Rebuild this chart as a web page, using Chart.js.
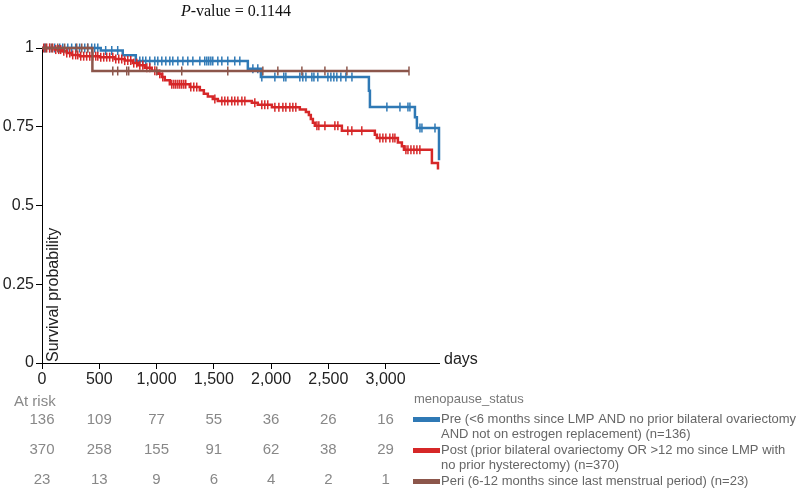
<!DOCTYPE html>
<html><head><meta charset="utf-8">
<script src="https://cdn.jsdelivr.net/npm/chart.js@4.4.0/dist/chart.umd.min.js"></script>
<style>html,body{margin:0;padding:0;background:#fff;}#wrap{width:800px;height:488px;position:relative;}</style>
</head><body><div id="wrap"><canvas id="c" width="800" height="488"></canvas></div>
<script>
// ---------- data ----------
const xTicks = [0, 500, 1000, 1500, 2000, 2500, 3000];
const yTicks = [0, 0.25, 0.5, 0.75, 1];
const xMax = 3466;
const groupNames = ['Pre', 'Post', 'Peri'];
const groupColors = ['#2f79b5', '#d62728', '#8c564b'];
const legendTitle = 'menopause_status';
const legendLines = [
  ['Pre (<6 months since LMP AND no prior bilateral ovariectomy', 'AND not on estrogen replacement) (n=136)'],
  ['Post (prior bilateral ovariectomy OR >12 mo since LMP with', 'no prior hysterectomy) (n=370)'],
  ['Peri (6-12 months since last menstrual period) (n=23)']
];
const atRiskPre  = [136, 109, 77, 55, 36, 26, 16];
const atRiskPost = [370, 258, 155, 91, 62, 38, 29];
const atRiskPeri = [23, 13, 9, 6, 4, 2, 1];

const preEventDays = [513, 705, 819, 1797, 1911, 2854, 2863, 3256, 3273, 3466];
const preEventSurv = [0.992, 0.977, 0.959, 0.934, 0.908, 0.864, 0.813, 0.78, 0.746, 0.644];
const preEnd = 3466;
const preCensor = [24, 67, 111, 155, 181, 225, 259, 294, 329, 373, 399, 434, 460, 487,
  556, 609, 661, 854, 880, 906, 941, 985, 1011, 1046, 1081, 1116, 1142, 1186, 1230, 1273,
  1317, 1378, 1421, 1439, 1456, 1474, 1491, 1535, 1570, 1622, 1683, 1727, 1841, 1884,
  1919, 2033, 2111, 2129, 2251, 2277, 2304, 2356, 2374, 2408, 2496, 2522, 2548, 2574,
  2609, 2653, 2706, 3011, 3125, 3195, 3212, 3300, 3317, 3431];

const postEventDays = [111, 172, 216, 259, 329, 504, 635, 722, 792, 836, 897, 958, 1011,
  1046, 1072, 1116, 1290, 1378, 1413, 1448, 1491, 1535, 1832, 1884, 2007, 2251, 2304,
  2330, 2347, 2365, 2382, 2618, 2906, 2924, 3107, 3142, 3160, 3404, 3457];
const postEventSurv = [0.995, 0.99, 0.984, 0.978, 0.974, 0.971, 0.965, 0.96, 0.952, 0.945,
  0.937, 0.928, 0.918, 0.908, 0.898, 0.885, 0.876, 0.866, 0.855, 0.846, 0.838, 0.832,
  0.826, 0.82, 0.812, 0.805, 0.797, 0.787, 0.775, 0.763, 0.753, 0.737, 0.725, 0.714,
  0.7, 0.688, 0.677, 0.635, 0.614];
const postEnd = 3457;
const postCensor = [15, 41, 67, 93, 120, 146, 163, 190, 216, 242, 268, 294, 312, 338, 364,
  390, 417, 443, 469, 487, 513, 539, 565, 591, 618, 644, 670, 696, 722, 749, 775, 801,
  827, 854, 880, 915, 941, 985, 1028, 1054, 1133, 1151, 1168, 1186, 1203, 1220, 1238,
  1255, 1299, 1325, 1351, 1509, 1570, 1596, 1622, 1657, 1683, 1710, 1745, 1771, 1858,
  1919, 1945, 1971, 2033, 2068, 2103, 2129, 2164, 2190, 2216, 2400, 2417, 2470, 2557,
  2583, 2670, 2705, 2792, 2950, 2976, 3002, 3037, 3063, 3081, 3177, 3195, 3221, 3247,
  3273, 3299];

const periEventDays = [440];
const periEventSurv = [0.927];
const periEnd = 3204;
const periCensor = [32, 85, 137, 198, 303, 347, 399, 618, 661, 740, 757, 1002, 1220,
  1622, 1928, 2059, 2269, 2470, 2662, 3204];

// ---------- helpers ----------
function curve(days, surv, end) {
  const pts = [{x: 0, y: 1}];
  days.forEach((d, i) => pts.push({x: d, y: surv[i]}));
  const last = pts[pts.length - 1];
  if (end > last.x) pts.push({x: end, y: last.y});
  return pts;
}
function survAt(days, surv, t) {
  let s = 1;
  for (let i = 0; i < days.length; i++) if (days[i] <= t) s = surv[i];
  return s;
}
function censorPts(cens, days, surv) {
  return cens.map(t => ({x: t, y: survAt(days, surv, t)}));
}

const groups = [
  {days: preEventDays, surv: preEventSurv, end: preEnd, cens: preCensor},
  {days: postEventDays, surv: postEventSurv, end: postEnd, cens: postCensor},
  {days: periEventDays, surv: periEventSurv, end: periEnd, cens: periCensor}
];
const datasets = [];
groups.forEach((g, i) => {
  datasets.push({
    label: groupNames[i], type: 'line', data: curve(g.days, g.surv, g.end),
    stepped: true, borderColor: groupColors[i], borderWidth: 2.5, pointRadius: 0,
    fill: false, clip: false, order: 10 - i * 2
  });
  datasets.push({
    label: groupNames[i] + ' censored', type: 'scatter', data: censorPts(g.cens, g.days, g.surv),
    pointStyle: 'line', rotation: 90, pointRadius: 4.5, pointBorderColor: groupColors[i],
    pointBorderWidth: 1.5, borderColor: groupColors[i], showLine: false, clip: false,
    order: 9 - i * 2
  });
});

const textPlugin = {
  id: 'texts',
  afterDraw(chart) {
    const ctx = chart.ctx;
    const xs = chart.scales.x;
    ctx.save();
    // title
    const tcx = 236, tcy = 12;
    ctx.textBaseline = 'middle';
    ctx.fillStyle = '#111';
    ctx.font = 'italic 16px "Liberation Serif"';
    const wP = ctx.measureText('P').width;
    ctx.font = '16px "Liberation Serif"';
    const rest = '-value = 0.1144';
    const wR = ctx.measureText(rest).width;
    let sx = tcx - (wP + wR) / 2;
    ctx.textAlign = 'left';
    ctx.font = 'italic 16px "Liberation Serif"';
    ctx.fillText('P', sx, tcy);
    ctx.font = '16px "Liberation Serif"';
    ctx.fillText(rest, sx + wP, tcy);

    // axis labels
    ctx.font = '16px "Liberation Sans"';
    ctx.fillStyle = '#222';
    ctx.fillText('days', 444, 360);
    ctx.save();
    ctx.translate(54, 362);
    ctx.rotate(-Math.PI / 2);
    ctx.textAlign = 'left';
    ctx.fillText('Survival probability', 0, 0);
    ctx.restore();

    // at risk table
    ctx.font = '15px "Liberation Sans"';
    ctx.fillStyle = '#888';
    ctx.textAlign = 'left';
    ctx.fillText('At risk', 14, 402);
    ctx.textAlign = 'center';
    const rows = [atRiskPre, atRiskPost, atRiskPeri];
    const rowY = [420, 450, 480];
    rows.forEach((r, ri) => {
      r.forEach((v, ci) => ctx.fillText(String(v), xs.getPixelForValue(xTicks[ci]), rowY[ri]));
    });

    // legend
    ctx.textAlign = 'left';
    ctx.font = '13px "Liberation Sans"';
    ctx.fillStyle = '#777';
    ctx.fillText(legendTitle, 414, 399);
    let y = 419;
    legendLines.forEach((lines, i) => {
      ctx.fillStyle = groupColors[i];
      ctx.fillRect(413, y - 2, 27, 5);
      ctx.fillStyle = '#666';
      lines.forEach(l => { ctx.fillText(l, 441, y); y += 15.5; });
    });
    ctx.restore();
  }
};

Chart.defaults.font.family = '"Liberation Sans", Arial, sans-serif';
new Chart(document.getElementById('c'), {
  type: 'scatter',
  data: {datasets},
  options: {
    responsive: false, animation: false, devicePixelRatio: 1,
    layout: {padding: {left: 0, right: 361, top: 48, bottom: 100}},
    plugins: {legend: {display: false}, tooltip: {enabled: false}},
    scales: {
      x: {
        type: 'linear', min: 0, max: xMax,
        afterBuildTicks: s => { s.ticks = xTicks.map(v => ({value: v})); },
        afterFit: s => { s.height = 25; },
        ticks: {autoSkip: false, maxRotation: 0, color: '#222', padding: 1,
          font: {size: 16}, callback: v => Number(v).toLocaleString('en-US')},
        grid: {drawOnChartArea: false, drawTicks: true, tickLength: 6, color: '#000'},
        border: {display: true, color: '#000', width: 1}
      },
      y: {
        type: 'linear', min: 0, max: 1,
        afterBuildTicks: s => { s.ticks = yTicks.map(v => ({value: v})); },
        afterFit: s => { s.width = 42; },
        ticks: {autoSkip: false, color: '#222', padding: 2, font: {size: 16},
          callback: v => String(v)},
        grid: {drawOnChartArea: false, drawTicks: true, tickLength: 6, color: '#000'},
        border: {display: true, color: '#000', width: 1}
      }
    }
  },
  plugins: [textPlugin]
});
</script></body></html>
